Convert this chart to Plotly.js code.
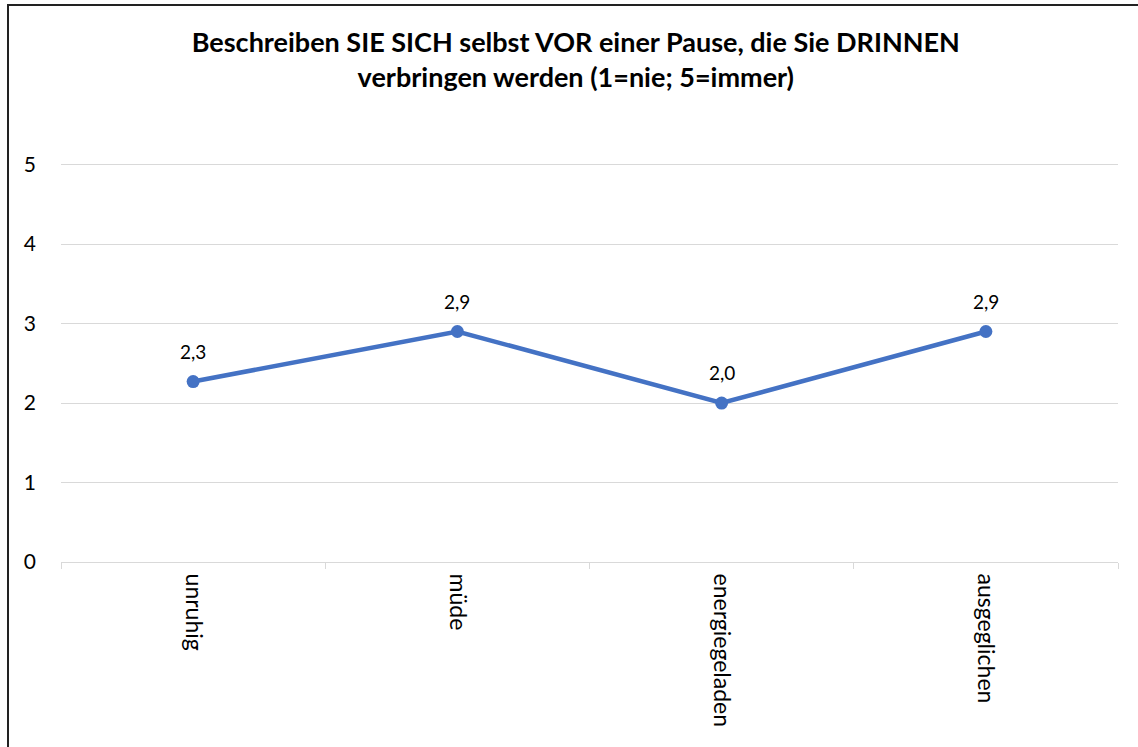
<!DOCTYPE html>
<html>
<head>
<meta charset="utf-8">
<script src="https://cdn.plot.ly/plotly-3.0.1.min.js"></script>
<style>
  html, body { margin: 0; padding: 0; background: #fff; }
  #wrap { position: relative; width: 1138px; height: 747px; overflow: hidden; }
  #chart { position: absolute; left: 0; top: 0; width: 1138px; height: 747px; }
  #frame { position: absolute; left: 7px; top: 4px; width: 1200px; height: 800px;
           border-left: 2px solid #222; border-top: 2px solid #222; pointer-events: none; }
</style>
</head>
<body>
<div id="wrap">
  <div id="chart"></div>
  <div id="frame"></div>
</div>
<script>
const categories = ['unruhig', 'müde', 'energiegeladen', 'ausgeglichen'];
const values = [2.27, 2.9, 2.0, 2.9];
const yTicks = [0, 1, 2, 3, 4, 5];
const titleText = 'Beschreiben SIE SICH selbst VOR einer Pause, die Sie DRINNEN<br>verbringen werden (1=nie; 5=immer)';

const FONT = 'Lato, "Open Sans", sans-serif';

const trace = {
  type: 'scatter',
  mode: 'lines+markers',
  x: categories,
  y: values,
  line: { color: '#4472C4', width: 4.5 },
  marker: { color: '#4472C4', size: 13 },
  cliponaxis: false,
  hoverinfo: 'skip'
};

const labels = categories.map((c, i) => ({
  x: c,
  y: values[i],
  xref: 'x',
  yref: 'y',
  text: values[i].toFixed(1).replace('.', ','),
  showarrow: false,
  yanchor: 'bottom',
  xanchor: 'center',
  yshift: 17,
  font: { family: FONT, size: 19, color: '#000' }
}));

const layout = {
  width: 1138,
  height: 747,
  paper_bgcolor: '#fff',
  plot_bgcolor: '#fff',
  showlegend: false,
  margin: { l: 61, r: 20, t: 163, b: 185 },
  title: {
    text: titleText,
    font: { family: FONT, size: 27, color: '#000', weight: 'bold' },
    x: 0.506,
    xanchor: 'center',
    yref: 'container',
    y: 1 - 52 / 747,
    yanchor: 'top'
  },
  annotations: labels,
  xaxis: {
    type: 'category',
    range: [-0.5, 3.5],
    tickangle: 90,
    tickfont: { family: FONT, size: 23, color: '#000' },
    showgrid: false,
    showline: true,
    linecolor: '#d9d9d9',
    linewidth: 1,
    ticks: 'outside',
    tickson: 'boundaries',
    ticklen: 6,
    tickcolor: '#d9d9d9',
    ticklabelstandoff: 6,
    zeroline: false,
    fixedrange: true
  },
  yaxis: {
    range: [0, 5.02],
    tickvals: yTicks,
    tickfont: { family: FONT, size: 21, color: '#000' },
    showgrid: true,
    gridcolor: '#d9d9d9',
    gridwidth: 1,
    showline: false,
    zeroline: false,
    ticks: '',
    ticklabelstandoff: 24,
    fixedrange: true
  }
};

Plotly.newPlot('chart', [trace], layout, { displayModeBar: false, staticPlot: true });
</script>
</body>
</html>
